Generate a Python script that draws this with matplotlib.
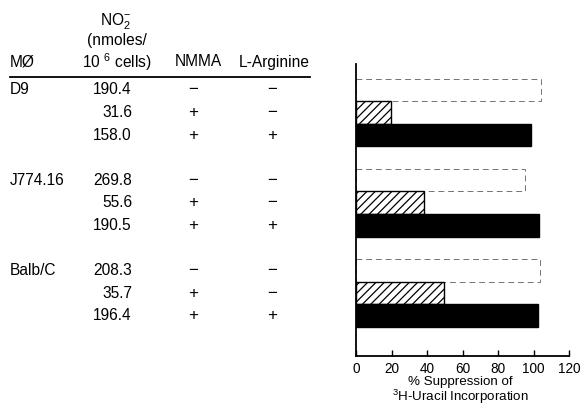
import numpy as np
import matplotlib
matplotlib.use('Agg')
import matplotlib.pyplot as plt
from matplotlib.transforms import blended_transform_factory

plt.rcParams['font.family'] = ['Liberation Sans', 'DejaVu Sans']
plt.rcParams['mathtext.default'] = 'regular'
plt.rcParams['hatch.linewidth'] = 0.9

# table data
cells = ['D9', 'J774.16', 'Balb/C']
no2 = [['190.4', '31.6', '158.0'],
       ['269.8', '55.6', '190.5'],
       ['208.3', '35.7', '196.4']]
nmma = ['\u2212', '+', '+']
larg = ['\u2212', '\u2212', '+']

# % suppression of 3H-uracil incorporation
supp_none = [104.5, 95.0, 103.5]
supp_nmma = [19.5, 38.5, 49.5]
supp_both = [98.5, 103.0, 102.5]

fig = plt.figure(figsize=(5.8, 4.08), dpi=100)
ax = fig.add_axes([356/580, 1-356/408, 213/580, 292/408])

h = 1.0
for g in range(3):
    y0 = 4*g
    ax.barh(y0, supp_none[g], height=h, color='white', edgecolor='0.45',
            linewidth=0.7, linestyle=(0, (6, 4)), zorder=2)
    ax.barh(y0+1, supp_nmma[g], height=h, color='white', edgecolor='black',
            linewidth=1.0, hatch='////', zorder=2)
    ax.barh(y0+2, supp_both[g], height=h, color='black', edgecolor='black', zorder=2)

ax.set_ylim(11.79, -1.15)
ax.set_xlim(0, 120)
ax.set_xticks(np.arange(0, 121, 20))
ax.set_yticks([])
for s in ['top', 'right']:
    ax.spines[s].set_visible(False)
ax.spines['left'].set_linewidth(1.3)
ax.spines['bottom'].set_linewidth(1.3)
ax.tick_params(axis='x', direction='in', length=4, width=1.0, labelsize=9.8, pad=4)

# axis title placed by hand so both lines fit
fig.text(460/580, 1 - 381.5/408, '% Suppression of', fontsize=9.6, va='center', ha='center')
fig.text(460/580, 1 - 396.5/408, '$^{3}$H-Uracil Incorporation', fontsize=9.6,
         va='center', ha='center')

# table on the left, rows tied to the bar positions
tr = blended_transform_factory(fig.transFigure, ax.transData)
fs = 11.2
for g in range(3):
    for k in range(3):
        y = 4*g + k
        if k == 0:
            ax.text(10/580, y, cells[g], transform=tr, fontsize=fs, va='center', ha='left')
        ax.text(132/580, y, no2[g][k], transform=tr, fontsize=fs, va='center', ha='right')
        ax.text(193/580, y, nmma[k], transform=tr, fontsize=fs+1, va='center', ha='center')
        ax.text(272/580, y, larg[k], transform=tr, fontsize=fs+1, va='center', ha='center')

hy = 1 - 62/408
fig.text(10/580, hy, 'MØ', fontsize=fs, va='center', ha='left')
fig.text(116/580, 1 - 22/408, 'NO$_{2}^{-}$', fontsize=fs, va='center', ha='center')
fig.text(117/580, 1 - 41/408, '(nmoles/', fontsize=fs, va='center', ha='center')
fig.text(117/580, hy, '10 $^{6}$ cells)', fontsize=fs, va='center', ha='center')
fig.text(198/580, hy, 'NMMA', fontsize=fs, va='center', ha='center')
fig.text(274/580, hy, 'L-Arginine', fontsize=fs, va='center', ha='center')
fig.add_artist(plt.Line2D([10/580, 310/580], [1-77/408, 1-77/408],
                          transform=fig.transFigure, color='black', linewidth=1.3))

fig.savefig('out.png', dpi=100)
